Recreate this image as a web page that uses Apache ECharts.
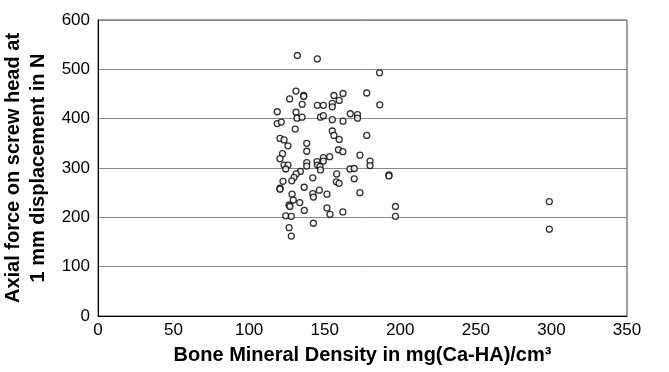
<meta charset="utf-8" />
<style>body { margin: 0; }</style>
<div id="main" style="width:669px;height:372px;"></div>
<script src="https://cdn.jsdelivr.net/npm/echarts@6/dist/echarts.min.js"></script>
<script type="text/javascript">
	// bone mineral density (mg Ca-HA / cm3)
	var bmd = [
		131.9, 145.1, 186.3, 131.0, 126.8, 136.1, 136.1, 156.1, 162.1, 177.8,
		135.1, 145.1, 149.1, 155.0, 155.0, 159.6, 186.4, 118.6, 131.0, 131.7,
		135.0, 147.2, 149.1, 155.0, 162.1, 166.9, 171.7, 171.7, 118.6, 121.3,
		130.5, 155.0, 156.1, 159.6, 177.8, 120.4, 123.1, 125.7, 138.1, 138.1,
		159.1, 162.0, 173.3, 122.1, 120.4, 123.1, 125.7, 124.2, 138.1, 138.1,
		144.9, 149.1, 149.1, 145.2, 146.9, 153.3, 147.2, 180.0, 180.0, 166.7,
		169.5, 192.5, 192.5, 133.9, 131.1, 129.7, 128.2, 122.4, 142.1, 157.9,
		157.7, 159.5, 169.5, 120.4, 120.4, 136.4, 146.4, 142.1, 142.5, 151.5,
		173.3, 128.4, 129.2, 133.5, 126.4, 127.0, 151.5, 153.5, 136.5, 162.0,
		196.8, 196.8, 124.2, 127.9, 142.5, 126.4, 127.9, 298.6, 298.6
	];
	// axial force at 1 mm displacement (N)
	var force = [
		528, 521, 493, 456, 440, 447, 445, 447, 451, 452,
		429, 427, 427, 431, 424, 437, 428, 414, 413, 401,
		403, 403, 406, 398, 395, 410, 408, 401, 390, 393,
		379, 375, 366, 358, 366, 360, 357, 345, 350, 334,
		337, 333, 326, 329, 319, 306, 306, 298, 311, 304,
		313, 321, 314, 306, 303, 323, 296, 314, 305, 298,
		299, 286, 284, 293, 288, 281, 274, 273, 280, 288,
		272, 269, 278, 259, 257, 261, 255, 248, 241, 247,
		250, 247, 235, 230, 225, 222, 219, 206, 214, 211,
		222, 202, 203, 202, 188, 179, 162, 232, 176
	];
	var xTicks = [0, 50, 100, 150, 200, 250, 300, 350];
	var yTicks = [0, 100, 200, 300, 400, 500, 600];

	var points = [];
	for (var i = 0; i < bmd.length; i++) {
		points.push([bmd[i], force[i]]);
	}

	var myChart = echarts.init(document.getElementById('main'));
	var font = '"Liberation Sans", Arial, sans-serif';

	var option = {
		animation: false,
		grid: {
			left: 98, right: 42, top: 20, bottom: 56,
			outerBoundsMode: 'none',
			containLabel: false,
			show: true, borderColor: '#444', borderWidth: 1
		},
		xAxis: {
			type: 'value',
			min: xTicks[0], max: xTicks[xTicks.length - 1], interval: 50,
			name: 'Bone Mineral Density in mg(Ca-HA)/cm\u00b3',
			nameLocation: 'middle', nameGap: 29,
			nameTextStyle: { fontFamily: font, fontSize: 20, fontWeight: 'bold', color: '#000' },
			axisLine: { lineStyle: { color: '#000', width: 1 } },
			axisTick: { show: false },
			axisLabel: { fontFamily: font, fontSize: 17, color: '#000', margin: 6 },
			splitLine: { show: false }
		},
		yAxis: {
			type: 'value',
			min: yTicks[0], max: yTicks[yTicks.length - 1], interval: 100,
			name: 'Axial force on screw head at\n1 mm displacement in N',
			nameLocation: 'middle', nameGap: 45, nameRotate: 90,
			nameTextStyle: { fontFamily: font, fontSize: 20, fontWeight: 'bold', color: '#000', lineHeight: 25 },
			axisLine: { show: true, lineStyle: { color: '#000', width: 1 } },
			axisTick: { show: false },
			axisLabel: { fontFamily: font, fontSize: 17, color: '#000', margin: 8 },
			splitLine: { show: true, lineStyle: { color: '#888', width: 1 } }
		},
		series: [{
			type: 'scatter',
			data: points,
			symbol: 'circle',
			symbolSize: 6,
			itemStyle: { color: '#fff', borderColor: '#000', borderWidth: 1.3 }
		}]
	};

	myChart.setOption(option);
</script>
